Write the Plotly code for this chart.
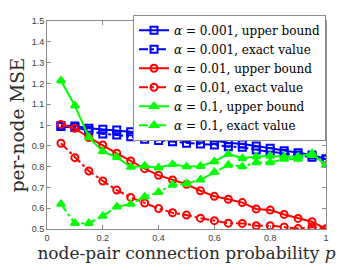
import plotly.graph_objects as go

p = [0.05, 0.1, 0.15, 0.2, 0.25, 0.3, 0.35, 0.4, 0.45, 0.5,
     0.55, 0.6, 0.65, 0.7, 0.75, 0.8, 0.85, 0.9, 0.95, 1.0]

blue_upper = [0.997, 0.995, 0.984, 0.979, 0.976, 0.968, 0.957, 0.952, 0.944, 0.936,
              0.931, 0.925, 0.915, 0.909, 0.899, 0.888, 0.876, 0.867, 0.856, 0.836]
blue_exact = [0.993, 0.988, 0.973, 0.957, 0.952, 0.944, 0.931, 0.925, 0.920, 0.912,
              0.909, 0.904, 0.896, 0.893, 0.880, 0.872, 0.864, 0.856, 0.845, 0.836]
red_upper = [1.003, 0.984, 0.940, 0.904, 0.864, 0.827, 0.790, 0.758, 0.736, 0.715,
             0.684, 0.657, 0.643, 0.627, 0.596, 0.591, 0.570, 0.551, 0.535, 0.500]
red_exact = [0.912, 0.843, 0.779, 0.731, 0.687, 0.652, 0.625, 0.598, 0.578, 0.567,
             0.552, 0.540, 0.528, 0.527, 0.516, 0.516, 0.510, 0.502, 0.510, 0.500]
green_upper = [1.213, 1.093, 0.940, 0.873, 0.845, 0.798, 0.803, 0.795, 0.811, 0.800,
               0.802, 0.825, 0.860, 0.840, 0.848, 0.851, 0.848, 0.848, 0.864, 0.806]
green_exact = [0.620, 0.528, 0.528, 0.562, 0.607, 0.620, 0.655, 0.677, 0.712, 0.718,
               0.737, 0.773, 0.808, 0.800, 0.820, 0.820, 0.836, 0.836, 0.855, 0.810]

x_ticks = [0, 0.2, 0.4, 0.6, 0.8, 1]
y_ticks = [0.5, 0.6, 0.7, 0.8, 0.9, 1.0, 1.1, 1.2, 1.3, 1.4, 1.5]

series = [
    ("<i>α</i> = 0.001, upper bound", blue_upper, "#0000ff", "solid", "square-open"),
    ("<i>α</i> = 0.001, exact value", blue_exact, "#0000ff", "dashdot", "square-open"),
    ("<i>α</i> = 0.01, upper bound", red_upper, "#ff0000", "solid", "circle-open"),
    ("<i>α</i> = 0.01, exact value", red_exact, "#ff0000", "dashdot", "circle-open"),
    ("<i>α</i> = 0.1, upper bound", green_upper, "#00ff00", "solid", "triangle-up"),
    ("<i>α</i> = 0.1, exact value", green_exact, "#00ff00", "dashdot", "triangle-up"),
]

fig = go.Figure()
for name, ys, col, dash, sym in series:
    fig.add_trace(go.Scatter(
        x=p, y=ys, name=name, mode="lines+markers",
        line=dict(color=col, width=2, dash=dash),
        marker=dict(symbol=sym, size=7, color=col, line=dict(color=col, width=2)),
    ))

axis_common = dict(
    showgrid=False, zeroline=False, showline=True, linecolor="#8c8c8c", linewidth=1,
    mirror="ticks", ticks="inside", ticklen=4, tickcolor="#8c8c8c",
    tickfont=dict(family="Liberation Sans", size=9, color="#404040"),
)

fig.update_layout(
    width=360, height=270,
    margin=dict(l=47, r=34, t=21, b=41),
    paper_bgcolor="white", plot_bgcolor="white",
    showlegend=True,
    legend=dict(
        x=1, xanchor="right", y=1.03, yanchor="top",
        bgcolor="white", bordercolor="#8c8c8c", borderwidth=1,
        font=dict(family="DejaVu Serif", size=12, color="black"),
        tracegroupgap=0, itemwidth=30,
    ),
    xaxis=dict(range=[0, 1], tickvals=x_ticks,
               title=dict(text="node-pair connection probability <i>p</i>",
                          font=dict(family="DejaVu Serif", size=17, color="#2a2a2a"),
                          standoff=4),
               **axis_common),
    yaxis=dict(range=[0.5, 1.5], tickvals=y_ticks,
               title=dict(text="per-node MSE",
                          font=dict(family="DejaVu Serif", size=18.5, color="#2a2a2a"),
                          standoff=2),
               **axis_common),
)

fig.write_html("out.html", config={"displayModeBar": False},
               post_script="document.body.style.margin='0';")
